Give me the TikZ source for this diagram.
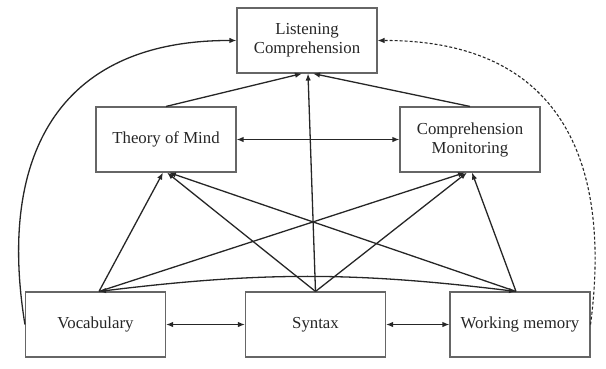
\documentclass[tikz,border=0pt]{standalone}
\usepackage{fontspec}
\setmainfont{Liberation Serif}
\usetikzlibrary{arrows.meta}
\begin{document}
\begin{tikzpicture}[x=1pt,y=1pt,
  box/.style={draw=black!60, line width=1.1pt, minimum width=140pt, minimum height=65pt,
    inner sep=0pt, align=center, font=\fontsize{16.8}{19}\selectfont, text=black!85},
  tip/.style={-{Latex[length=7pt,width=5.5pt]}},
  link/.style={draw=black!85, line width=1.3pt, tip},
  both/.style={draw=black!85, line width=1.3pt, {Latex[length=7pt,width=5.5pt]}-{Latex[length=7pt,width=5.5pt]}},
]
\useasboundingbox (0,0) rectangle (606,-368);

% outcome, mediators and predictors
\node[box] (lc)  at (307,-40.5)   {Listening\\Comprehension};
\node[box] (tom) at (166,-139.5)  {Theory of Mind};
\node[box] (cm)  at (470,-139.5)  {Comprehension\\Monitoring};
\node[box] (voc) at (95.5,-324.5) {Vocabulary};
\node[box] (syn) at (315.5,-324.5){Syntax};
\node[box] (wm)  at (520,-324.5)  {Working memory};

% mediators to outcome
\draw[link] (tom.north) -- ([xshift=-5pt]lc.south);
\draw[link] (cm.north)  -- ([xshift=6pt]lc.south);
\draw[link] (syn.north) -- ([xshift=1pt]lc.south);
\draw[both] (tom.east) -- (cm.east -| cm.west);

% predictors to mediators
\draw[link] ([xshift=3.5pt]voc.north) -- ([xshift=-3pt]tom.south);
\draw[link] (syn.north) -- ([xshift=1pt]tom.south);
\draw[link] ([xshift=-4pt]wm.north) -- ([xshift=3pt]tom.south);
\draw[link] ([xshift=3.5pt]voc.north) -- ([xshift=-5pt]cm.south);
\draw[link] (syn.north) -- ([xshift=-3pt]cm.south);
\draw[link] ([xshift=-4pt]wm.north) -- ([xshift=2pt]cm.south);

% correlations among predictors
\draw[both] (voc.east) -- (syn.west);
\draw[both] (syn.east) -- (wm.west);
\draw[both] ([xshift=3.5pt]voc.north) to[bend left=7] ([xshift=-4pt]wm.north);

% direct paths to the outcome
\draw[link] (voc.west) .. controls (-2,-160) and (55,-40) .. (lc.west);
\draw[link, line width=1.1pt, dash pattern=on 3pt off 2pt] (wm.east) .. controls (612,-160) and (560,-40) .. (lc.east);
\end{tikzpicture}
\end{document}
